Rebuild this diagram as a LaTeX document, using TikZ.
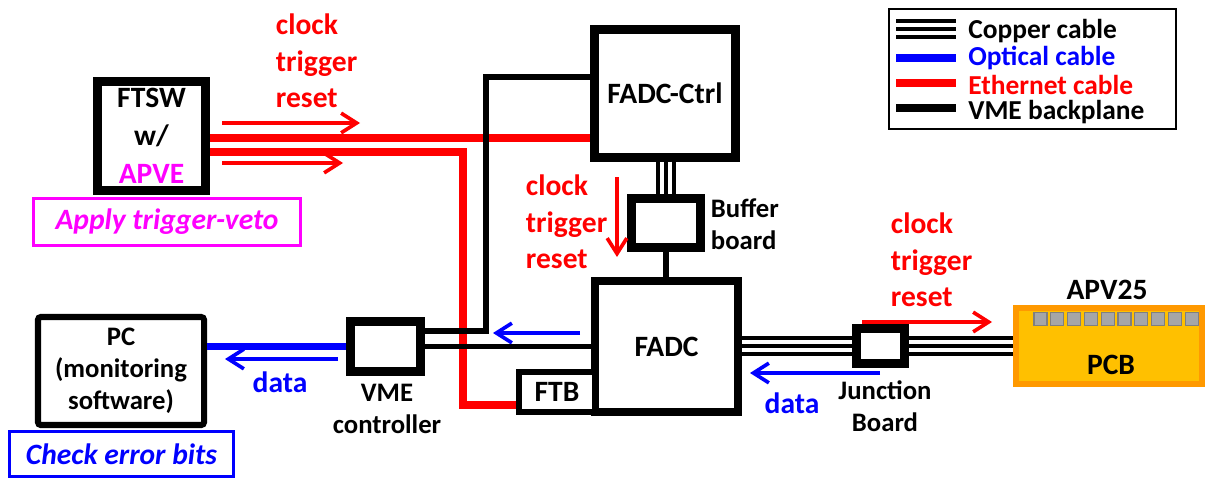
\documentclass[tikz,border=0pt]{standalone}
\usepackage{fontspec}
\setmainfont{Carlito}
\usepackage{xcolor}
\usepackage{tikz}
\usetikzlibrary{arrows.meta}

\definecolor{pcbfill}{HTML}{FFC000}
\definecolor{pcbedge}{HTML}{FF9900}
\definecolor{chipfill}{HTML}{A6A6A6}
\definecolor{chipedge}{HTML}{7F7F7F}
\definecolor{vetopink}{HTML}{FF00FF}
\definecolor{sigred}{HTML}{FF0000}
\definecolor{sigblue}{HTML}{0000FF}

\newcommand{\biglbl}{\fontsize{21}{26}\selectfont\bfseries}
\newcommand{\smalllbl}{\fontsize{19}{22.8}\selectfont\bfseries}

\tikzset{
  hwbox/.style={draw, fill=white, line width=#1, inner sep=0pt, font=\biglbl, align=center},
  notebox/.style={draw=#1, text=#1, fill=white, line width=2.1pt, inner sep=0pt, font=\biglbl\itshape},
  ethernet/.style={sigred, line width=5pt},
  optical/.style={sigblue, line width=5pt},
  backplane/.style={black, line width=4.2pt},
  copper/.style={black, line width=2.85pt, double=white, double distance=8.5pt,
    postaction={draw=black, line width=2.85pt}},
  signal/.style={line width=2.6pt, -{Straight Barb[length=11pt,width=14pt]}},
  legendtext/.style={font=\fontsize{19.5}{23}\selectfont\bfseries, anchor=west, inner sep=0pt},
  chip/.style={draw=chipedge, fill=chipfill, line width=0.8pt, minimum size=0.325cm, inner sep=0pt},
}

\begin{document}
\begin{tikzpicture}[x=0.025cm, y=-0.025cm]
  \useasboundingbox (0,0) rectangle (1207,480);
  % Boxes
  \node[hwbox=6.4pt, minimum width=2.7cm, minimum height=2.725cm, font=\fontsize{21}{27}\selectfont\bfseries] (ftsw) at (151.5,136)
    {\rule{0pt}{14pt}FTSW\\w/\\\textcolor{vetopink}{APVE}};
  \node[notebox=vetopink, minimum width=6.675cm, minimum height=1.175cm] (veto) at (167,222) {Apply trigger-veto};
  \node[hwbox=6pt, minimum width=3.525cm, minimum height=3.2cm] (ctrl) at (665,93.5) {FADC-Ctrl};
  \node[hwbox=6.4pt, minimum width=1.725cm, minimum height=1.225cm] (buffer) at (666,223) {};
  \node[hwbox=5.7pt, minimum width=3.575cm, minimum height=3.275cm] (fadc) at (666.5,346.5) {FADC};
  \node[hwbox=4.3pt, minimum width=1.9cm, minimum height=1.0cm] (ftb) at (557,392) {FTB};
  \node[hwbox=6.4pt, minimum width=1.75cm, minimum height=1.25cm] (vme) at (385.5,346.5) {};
  \node[hwbox=6.4pt, minimum width=1.2cm, minimum height=0.875cm] (junction) at (880.5,346) {};
  \node[hwbox=4.3pt, rounded corners=2pt, minimum width=4.15cm, minimum height=2.7cm, font=\smalllbl] (pc) at (121,371)
    {PC\\(monitoring\\software)};
  \node[notebox=sigblue, minimum width=5.6cm, minimum height=1.125cm] (check) at (121.5,454) {Check error bits};
  \node[draw=pcbedge, fill=pcbfill, line width=4.3pt, minimum width=4.65cm, minimum height=1.9cm] (pcb) at (1109,346) {};
  \foreach \i in {0,...,9}
    \node[chip] (chip\i) at ({1040.5+16.8*\i},319) {};

  % Ethernet cables
  \draw[ethernet] (ftsw.east |- 0,138) -- (ctrl.west |- 0,138);
  \draw[ethernet] (ftsw.east |- 0,152) -- (463,152) -- (463,405) -- (ftb.west |- 0,405);
  % VME backplane
  \draw[backplane] (ctrl.west |- 0,77) -- (486,77) -- (486,331) -- (vme.east |- 0,331);
  \draw[backplane] (vme.east) -- (fadc.west |- vme.east);
  \draw[backplane] (buffer.south) -- (fadc.north -| buffer.south);
  % Copper cables
  \draw[copper] (ctrl.south -| buffer.north) -- (buffer.north);
  \draw[copper] (fadc.east |- junction.west) -- (junction.west);
  \draw[copper] (junction.east) -- (pcb.west |- junction.east);
  % Optical cable
  \draw[optical] (pc.east |- vme.west) -- (vme.west);

  % Signal arrows
  \path (222,123) coordinate (sigA1) (360,123) coordinate (sigA2)
        (222,163) coordinate (sigB1) (343,163) coordinate (sigB2)
        (617,177) coordinate (sigC1) (617,257) coordinate (sigC2)
        (862,322) coordinate (sigD1) (992,322) coordinate (sigD2)
        (580,333) coordinate (datA1) (493,333) coordinate (datA2)
        (338,359) coordinate (datB1) (225,359) coordinate (datB2)
        (880,373) coordinate (datC1) (750,373) coordinate (datC2);
  \draw[signal, sigred] (sigA1) -- (sigA2);
  \draw[signal, sigred] (sigB1) -- (sigB2);
  \draw[signal, sigred] (sigC1) -- (sigC2);
  \draw[signal, sigred] (sigD1) -- (sigD2);
  \draw[signal, sigblue] (datA1) -- (datA2);
  \draw[signal, sigblue] (datB1) -- (datB2);
  \draw[signal, sigblue] (datC1) -- (datC2);

  % Labels
  \node[sigred, font=\biglbl, align=left, anchor=west] (ctsA) at (271,61) {clock\\trigger\\reset};
  \node[sigred, font=\biglbl, align=left, anchor=west] (ctsB) at (521,222) {clock\\trigger\\reset};
  \node[sigred, font=\biglbl, align=left, anchor=west] (ctsC) at (886,260) {clock\\trigger\\reset};
  \node[sigblue, font=\biglbl] (dataA) at (280,382) {data};
  \node[sigblue, font=\biglbl] (dataB) at (792,403) {data};
  \node[font=\smalllbl, align=left, anchor=west] (bufferlbl) at (706,224) {Buffer\\board};
  \node[font=\smalllbl, align=center] (vmelbl) at (387,409) {VME\\controller};
  \node[font=\smalllbl, align=center] (junctionlbl) at (885,406) {Junction\\Board};
  \node[font=\biglbl] (apvlbl) at (1107,290) {APV25};
  \node[font=\biglbl] (pcblbl) at (1111,365) {PCB};

  % Legend
  \node[draw, line width=1.4pt, minimum width=7.175cm, minimum height=3cm] (legend) at (1032.5,69) {};
  \draw[copper] (896,29) -- (956,29);
  \draw[optical] (896,58) -- (956,58);
  \draw[ethernet] (896,83) -- (956,83);
  \draw[backplane, line width=5pt] (896,108) -- (956,108);
  \node[legendtext] (legCu) at (968,31) {Copper cable};
  \node[legendtext, sigblue] (legOpt) at (968,58) {Optical cable};
  \node[legendtext, sigred] (legEth) at (968,85) {Ethernet cable};
  \node[legendtext] (legVme) at (968,112) {VME backplane};
\end{tikzpicture}
\end{document}
